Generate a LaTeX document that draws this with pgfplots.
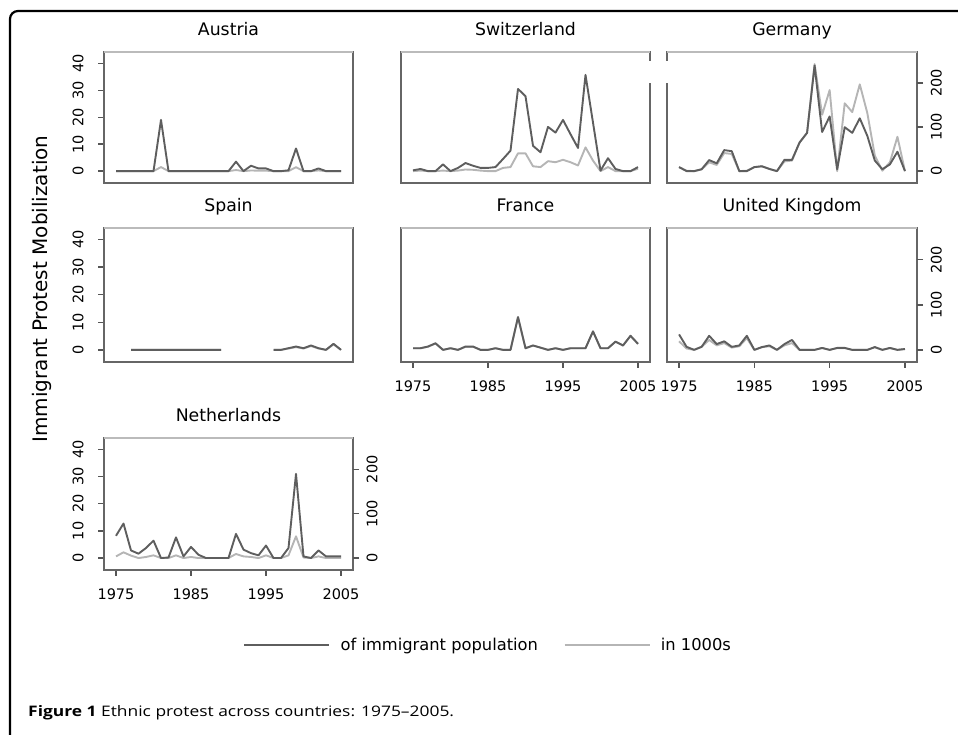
\documentclass[border=0pt]{standalone}
\usepackage{fontspec}
\setmainfont{DejaVu Sans}
\newfontfamily\capfont[FakeStretch=1.2]{Open Sans}
\usepackage{pgfplots}
\usepackage{pgfplotstable}
\pgfplotsset{compat=1.18}
\definecolor{darkline}{HTML}{5E5E5E}
\definecolor{lightline}{HTML}{B5B5B5}
\definecolor{boxdark}{HTML}{666666}
\definecolor{boxlight}{HTML}{BBBBBB}
\definecolor{tickc}{HTML}{555555}

\pgfplotstableread{
year pct th
1975 0 0
1976 0 0
1977 0 0
1978 0 0
1979 0 0
1980 0 0
1981 19 9.2
1982 0 0
1983 0 0
1984 0 0
1985 0 0
1986 0 0
1987 0 0
1988 0 0
1989 0 0
1990 0 0
1991 3.5 2.5
1992 0 0
1993 2 1.5
1994 1 1
1995 1 1
1996 0 0
1997 0 0
1998 0.3 0
1999 8.4 9
2000 0 0
2001 0 0
2002 1 1.5
2003 0 0
2004 0 0
2005 0 0
}\dataAT

\pgfplotstableread{
year pct th
1975 0.3 0
1976 0.8 1.2
1977 0 0
1978 0 0
1979 2.5 1.2
1980 0 0
1981 1.2 1.2
1982 3 3.7
1983 2 3
1984 1.2 1.2
1985 1.2 0
1986 1.5 0
1987 4.5 7.3
1988 7.6 9.2
1989 30.5 40.4
1990 27.8 40.4
1991 9.4 11
1992 7 9.2
1993 16.4 22.6
1994 14.3 20.2
1995 19 25.7
1996 13.7 20.2
1997 8.6 12.9
1998 35.7 53.9
1999 18 23.9
2000 0.2 0
2001 4.8 9.2
2002 0.8 0
2003 0 0
2004 0 0
2005 1.5 5.5
}\dataCH

\pgfplotstableread{
year pct th
1975 1.5 9
1976 0 1
1977 0 0
1978 0.7 4
1979 4.1 20
1980 2.9 14
1981 7.8 41
1982 7.4 39
1983 0 0
1984 0 1
1985 1.5 9
1986 1.8 11
1987 0.8 5
1988 0 0
1989 4.2 22
1990 4.2 24
1991 10.6 65
1992 14.2 87
1993 39.2 243
1994 14.5 128
1995 20.3 184
1996 0.7 0
1997 16.3 154
1998 14.2 134
1999 19.6 197
2000 13.1 132
2001 3.9 35
2002 0.7 1
2003 2.5 20
2004 7.2 78
2005 0 0
}\dataDE

\pgfplotstableread{
year pct th
1975 nan nan
1976 nan nan
1977 0 0
1978 0 0
1979 0 0
1980 0 0
1981 0 0
1982 0 0
1983 0 0
1984 0 0
1985 0 0
1986 0 0
1987 0 0
1988 0 0
1989 0 0
1990 nan nan
1991 nan nan
1992 nan nan
1993 nan nan
1994 nan nan
1995 nan nan
1996 0 0
1997 0 0
1998 0.6 3
1999 1.2 6
2000 0.6 3
2001 1.6 8.5
2002 0.6 3
2003 0 0
2004 2.2 12
2005 0 0
}\dataES

\pgfplotstableread{
year pct th
1975 0.6 3.5
1976 0.6 3.5
1977 1.2 7
1978 2.4 14
1979 0 0
1980 0.6 3.5
1981 0 0
1982 1.2 7
1983 1.2 7
1984 0 0
1985 0 0
1986 0.6 3.5
1987 0 0
1988 0 0
1989 11.9 72
1990 0.6 3.5
1991 1.6 9.5
1992 0.8 5
1993 0 0
1994 0.6 3.5
1995 0 0
1996 0.6 3.5
1997 0.6 3.5
1998 0.6 3.5
1999 6.7 41
2000 0.6 3.5
2001 0.6 3.5
2002 3 18
2003 1.6 9.5
2004 5.1 31
2005 2.2 13
}\dataFR

\pgfplotstableread{
year pct th
1975 5.6 19
1976 1.1 3
1977 0 0
1978 1.1 7
1979 5.1 22
1980 2.1 10
1981 3.1 15
1982 1.1 5
1983 1.6 8
1984 5.1 26
1985 0 0
1986 1.0 6
1987 1.6 8
1988 0 0
1989 2.1 10
1990 3.6 15
1991 0 0
1992 0 0
1993 0 0
1994 0.7 4
1995 0 0
1996 0.7 4
1997 0.7 4
1998 0 0
1999 0 0
2000 0 0
2001 1.0 6
2002 0 0
2003 0.7 4
2004 0 0
2005 0.3 2
}\dataUK

\pgfplotstableread{
year pct th
1975 8.2 3.7
1976 12.7 12.9
1977 2.8 5.5
1978 1.6 0
1979 3.7 2.4
1980 6.4 6.1
1981 0 0
1982 0.2 0
1983 7.6 6.1
1984 0.6 0
1985 4.1 2.4
1986 1.2 0
1987 0 0
1988 0 0
1989 0 0
1990 0 0
1991 8.9 9.2
1992 3.1 3.7
1993 1.8 2.4
1994 1 0
1995 4.6 6.1
1996 0 0
1997 0 0
1998 3.7 6.1
1999 31 49
2000 0.6 1.2
2001 0 0
2002 2.8 3.7
2003 0.6 0
2004 0.6 0
2005 0.6 0
}\dataNL

\newcommand\panelbox{%
  \draw[boxdark, line width=1.6pt, line cap=rect] (rel axis cs:0,1) -- (rel axis cs:0,0) -- (rel axis cs:1,0) -- (rel axis cs:1,1);
  \draw[boxlight, line width=1.6pt] (rel axis cs:0,1) -- (rel axis cs:1,1);
}
\newcommand\series[1]{%
  \addplot[lt] table[x=year, y expr=\thisrow{th}/6.12] {#1};
  \addplot[dk] table[x=year, y=pct] {#1};
}
\newcommand\tickfont{\fontsize{14.5}{14.5}\selectfont}

\pgfplotsset{
  panel/.style={
    scale only axis, width=249pt, height=131pt,
    anchor=north west,
    xmin=1973.4, xmax=2006.6, ymin=-4.4, ymax=44.2,
    axis line style={draw=none},
    xtick=\empty, ytick=\empty,
    tick align=outside, major tick length=6pt,
    tick style={tickc, line width=1.4pt},
    clip=false,
    unbounded coords=jump,
    title style={font=\fontsize{17.3}{17.3}\selectfont, at={(0.5,1)}, anchor=base, yshift=10.5pt},
    tick label style={font=\tickfont},
  },
  lefty/.style={ytick={0,10,20,30,40}, ytick pos=left,
    yticklabel={\pgfmathprintnumber[fixed, precision=0, 1000 sep={}, assume math mode=true]{\tick}},
    yticklabel style={font=\tickfont, xshift=-11pt, rotate=90, anchor=south}},
  botx/.style={xtick={1975,1985,1995,2005},
    xticklabel={\pgfmathprintnumber[fixed, precision=0, 1000 sep={}, assume math mode=true]{\tick}},
    xtick pos=bottom, xticklabel style={font=\tickfont, yshift=-9pt}},
  righty/.style={panel, ymin=-26.93, ymax=270.5, ytick={0,100,200},
    ytick pos=right, yticklabel pos=right,
    yticklabel={\pgfmathprintnumber[fixed, precision=0, 1000 sep={}, assume math mode=true]{\tick}},
    yticklabel style={font=\tickfont, xshift=4.2pt, rotate=90, anchor=north}},
  dk/.style={darkline, line width=1.9pt, line join=round, forget plot},
  lt/.style={lightline, line width=1.9pt, line join=round, forget plot},
}

\begin{document}
\begin{tikzpicture}[x=1pt,y=1pt]
\path[use as bounding box] (0,0) rectangle (958,735);

% Row 1
\begin{axis}[panel, lefty, at={(104pt,683pt)}, title={Austria}]
\series{\dataAT}
\panelbox
\end{axis}
\begin{axis}[panel, at={(401pt,683pt)}, title={Switzerland}]
\series{\dataCH}
\panelbox
\end{axis}
\begin{axis}[panel, width=250pt, at={(667pt,683pt)}, title={Germany}]
\series{\dataDE}
\panelbox
\end{axis}
\begin{axis}[righty, width=250pt, at={(667pt,683pt)}]
\end{axis}

% Row 2
\begin{axis}[panel, lefty, height=134pt, at={(104pt,507pt)}, title={Spain}]
\series{\dataES}
\panelbox
\end{axis}
\begin{axis}[panel, botx, height=134pt, at={(401pt,507pt)}, title={France}]
\series{\dataFR}
\panelbox
\end{axis}
\begin{axis}[panel, botx, width=250pt, height=134pt, at={(667pt,507pt)}, title={United Kingdom}]
\series{\dataUK}
\panelbox
\end{axis}
\begin{axis}[righty, width=250pt, height=134pt, at={(667pt,507pt)}]
\end{axis}

% Row 3
\begin{axis}[panel, lefty, botx, height=132pt, at={(104pt,297pt)}, title={Netherlands},
  legend columns=2,
  legend image code/.code={\draw[#1] (0pt,0pt) -- (85pt,0pt); \path[draw=none] (94.4pt,0pt) coordinate (legendpad);},
  legend style={draw=none, fill=none, at={(0.558,-0.568)}, anchor=west, inner sep=0pt,
    font=\fontsize{16.3}{16.3}\selectfont,
    /tikz/every even column/.append style={column sep=23.4pt}},
  legend cell align=left]
\addlegendimage{darkline, line width=2.2pt}
\addlegendentry{of immigrant population}
\addlegendimage{lightline, line width=2.2pt}
\addlegendentry{in 1000s}
\series{\dataNL}
\panelbox
\end{axis}
\begin{axis}[righty, height=132pt, at={(104pt,297pt)}]
\end{axis}

% gap in the borders between Switzerland and Germany
\fill[white] (644,652) rectangle (673,674);

% shared y label
\node[rotate=90, font=\fontsize{20}{20}\selectfont] at (42,446) {Immigrant Protest Mobilization};

% frame
\draw[line width=2.2pt, rounded corners=8pt] (10,0) -- (10,724) -- (958,724);

% caption
\node[anchor=base west, inner sep=0pt, font=\capfont\fontsize{14.5}{14.5}\selectfont] at (28,18)
  {\textbf{Figure 1} Ethnic protest across countries: 1975–2005.};
\end{tikzpicture}
\end{document}
